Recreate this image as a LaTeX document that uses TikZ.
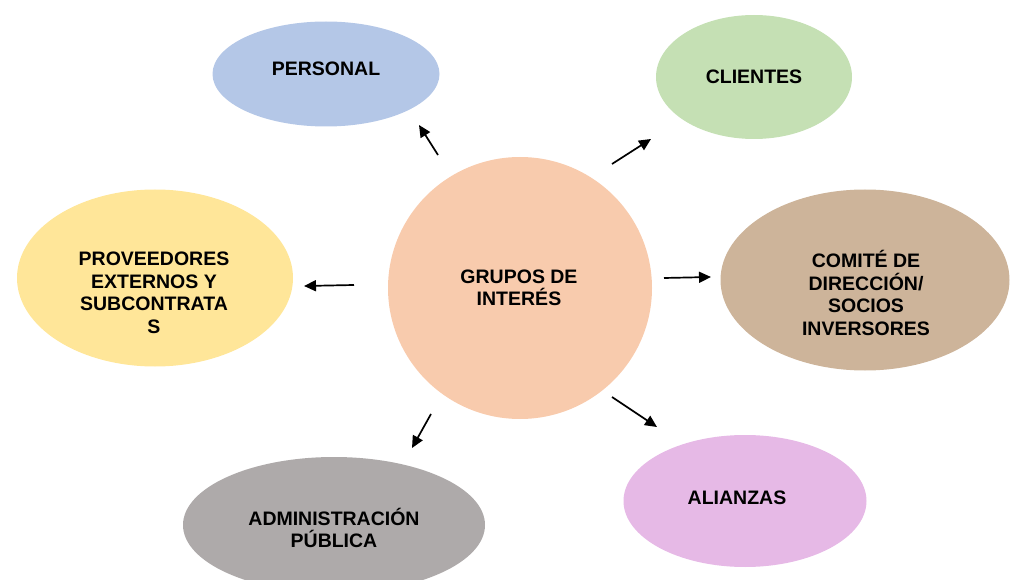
\documentclass[tikz,border=0pt]{standalone}
\usepackage{fontspec}
\setmainfont{Liberation Sans}
\usetikzlibrary{shapes.geometric,arrows.meta}
\definecolor{cPers}{HTML}{B4C7E7}
\definecolor{cCli}{HTML}{C5E0B4}
\definecolor{cGrp}{HTML}{F8CBAD}
\definecolor{cProv}{HTML}{FFE699}
\definecolor{cCom}{HTML}{CDB49A}
\definecolor{cAdm}{HTML}{AEAAAA}
\definecolor{cAli}{HTML}{E6B9E6}
\tikzset{
  blob/.style={ellipse, draw=none, inner sep=0pt},
  lbl/.style={align=center, font=\bfseries\fontsize{19.5}{22.5}\selectfont, text=black, inner sep=0pt},
  arr/.style={-{Triangle[length=12pt,width=11pt]}, line width=1.7pt, black}
}
\begin{document}
\begin{tikzpicture}[x=1pt,y=-1pt]
\useasboundingbox (0,0) rectangle (1013,580);
% shapes
\node[blob, fill=cPers, minimum width=227pt, minimum height=105pt] (pers) at (326,74) {};
\node[blob, fill=cCli, minimum width=196pt, minimum height=124pt] (cli) at (754,77) {};
\node[blob, fill=cGrp, minimum width=264pt, minimum height=262pt] (grp) at (520,288) {};
\node[blob, fill=cProv, minimum width=276pt, minimum height=177pt] (prov) at (155,278) {};
\node[blob, fill=cCom, minimum width=289pt, minimum height=181pt] (com) at (865,280) {};
\node[blob, fill=cAdm, minimum width=302pt, minimum height=136pt] (adm) at (334,525) {};
\node[blob, fill=cAli, minimum width=243pt, minimum height=132pt] (ali) at (745,501) {};
% labels
\node[lbl] (tpers) at (326,69) {PERSONAL};
\node[lbl] (tcli) at (754,77) {CLIENTES};
\node[lbl] (tgrp) at (519,288) {GRUPOS DE\\INTERÉS};
\node[lbl] (tprov) at (154,293) {PROVEEDORES\\EXTERNOS Y\\SUBCONTRATA\\S};
\node[lbl] (tcom) at (866,293) {COMITÉ DE\\DIRECCIÓN/\\SOCIOS\\INVERSORES};
\node[lbl] (tadm) at (334,528) {ADMINISTRACIÓN\\PÚBLICA};
\node[lbl] (tali) at (737,498) {ALIANZAS};
% arrow end points
\coordinate (a1s) at (438,155); \coordinate (a1e) at (419,125);
\coordinate (a2s) at (612,164); \coordinate (a2e) at (651,139);
\coordinate (a3s) at (354,285); \coordinate (a3e) at (304,286);
\coordinate (a4s) at (664,278); \coordinate (a4e) at (711,277);
\coordinate (a5s) at (431,414); \coordinate (a5e) at (412,448);
\coordinate (a6s) at (612,397); \coordinate (a6e) at (657,427);
\draw[arr] (a1s) -- (a1e);
\draw[arr] (a2s) -- (a2e);
\draw[arr] (a3s) -- (a3e);
\draw[arr] (a4s) -- (a4e);
\draw[arr] (a5s) -- (a5e);
\draw[arr] (a6s) -- (a6e);
\end{tikzpicture}
\end{document}
